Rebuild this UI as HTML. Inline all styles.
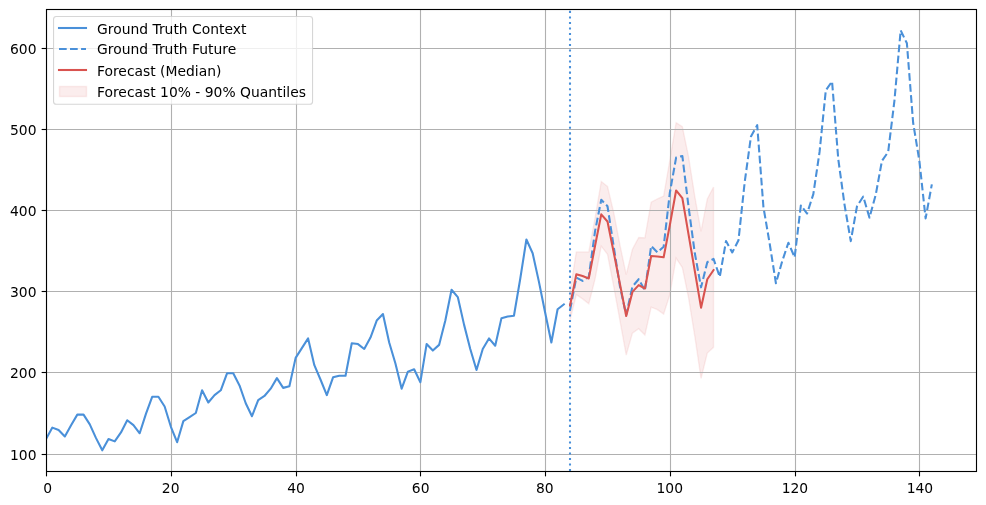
<!DOCTYPE html><html><head><meta charset="utf-8"><title>Forecast</title>
<style>html,body{margin:0;padding:0;background:#fff}body{width:986px;height:505px;overflow:hidden}svg{display:block}text{font-family:"DejaVu Sans","Liberation Sans",sans-serif;font-size:13.89px;fill:#000}</style></head><body>
<svg width="986" height="505" viewBox="0 0 986 505">
<rect width="986" height="505" fill="#fff"/>
<clipPath id="c"><rect x="46.5" y="9.5" width="930.0" height="462.0"/></clipPath>
<g clip-path="url(#c)">
<polygon points="570.07,291.38 576.31,251.89 582.55,251.89 588.79,251.89 595.02,218.41 601.26,181.52 607.50,186.38 613.74,212.73 619.97,245.16 626.21,274.68 632.45,249.22 638.69,237.46 644.92,237.87 651.16,202.19 657.40,198.95 663.64,196.11 669.87,160.03 676.11,122.73 682.35,126.79 688.58,156.79 694.82,196.52 701.06,231.38 707.30,198.95 713.53,186.95 713.53,347.33 707.30,353.00 701.06,378.38 694.82,336.30 688.58,297.87 682.35,267.62 676.11,258.14 669.87,294.62 663.64,314.08 657.40,309.62 651.16,307.19 644.92,335.00 638.69,328.68 632.45,333.06 626.21,355.03 619.97,320.57 613.74,286.52 607.50,254.33 601.26,246.14 595.02,279.22 588.79,303.79 582.55,298.84 576.31,294.71 570.07,319.76" fill="#d9534f" fill-opacity="0.1" stroke="#d9534f" stroke-opacity="0.1" stroke-width="1.39" stroke-linejoin="miter"/>
<g stroke="#b0b0b0" stroke-width="1.11">
<line x1="46.5" y1="9.5" x2="46.5" y2="471.5"/>
<line x1="171.5" y1="9.5" x2="171.5" y2="471.5"/>
<line x1="296.5" y1="9.5" x2="296.5" y2="471.5"/>
<line x1="420.5" y1="9.5" x2="420.5" y2="471.5"/>
<line x1="545.5" y1="9.5" x2="545.5" y2="471.5"/>
<line x1="670.5" y1="9.5" x2="670.5" y2="471.5"/>
<line x1="795.5" y1="9.5" x2="795.5" y2="471.5"/>
<line x1="919.5" y1="9.5" x2="919.5" y2="471.5"/>
<line x1="46.5" y1="454.5" x2="976.5" y2="454.5"/>
<line x1="46.5" y1="372.5" x2="976.5" y2="372.5"/>
<line x1="46.5" y1="291.5" x2="976.5" y2="291.5"/>
<line x1="46.5" y1="210.5" x2="976.5" y2="210.5"/>
<line x1="46.5" y1="129.5" x2="976.5" y2="129.5"/>
<line x1="46.5" y1="48.5" x2="976.5" y2="48.5"/>
</g>
<polyline points="46.13,438.95 52.37,427.60 58.60,430.03 64.84,436.52 71.08,425.16 77.32,414.62 83.55,414.62 89.79,424.35 96.03,438.14 102.27,450.30 108.50,438.95 114.74,441.38 120.98,432.46 127.22,420.30 133.45,425.16 139.69,433.27 145.93,413.81 152.17,396.79 158.40,396.79 164.64,406.52 170.88,426.79 177.12,442.19 183.35,421.11 189.59,417.06 195.83,413.00 202.07,390.30 208.30,402.46 214.54,395.16 220.78,390.30 227.02,373.27 233.25,373.27 239.49,385.44 245.73,403.27 251.97,416.25 258.20,400.03 264.44,395.98 270.68,388.68 276.91,378.14 283.15,387.87 289.39,386.25 295.63,357.87 301.86,348.14 308.10,338.41 314.34,365.16 320.58,379.76 326.81,395.16 333.05,377.33 339.29,375.71 345.53,375.71 351.76,343.27 358.00,344.08 364.24,348.95 370.48,337.60 376.71,320.57 382.95,314.08 389.19,342.46 395.43,363.54 401.66,388.68 407.90,371.65 414.14,369.22 420.38,382.19 426.61,344.08 432.85,350.57 439.09,344.89 445.33,320.57 451.56,289.76 457.80,297.06 464.04,324.62 470.27,348.95 476.51,370.03 482.75,348.95 488.99,338.41 495.22,345.71 501.46,318.14 507.70,316.52 513.94,315.71 520.17,279.22 526.41,239.49 532.65,253.27 538.89,281.65 545.12,312.46 551.36,342.46 557.60,309.22 563.84,304.35" fill="none" stroke="#4a90d9" stroke-width="2.08" stroke-linejoin="round" stroke-linecap="square"/>
<line x1="570" y1="471.1" x2="570" y2="9.5" stroke="#4a90d9" stroke-width="2.08" stroke-dasharray="2.08 3.44"/>
<polyline points="570.07,310.03 576.31,277.60 582.55,280.84 588.79,276.79 595.02,231.38 601.26,199.76 607.50,206.25 613.74,246.79 619.97,286.52 626.21,314.89 632.45,286.52 638.69,279.22 644.92,290.57 651.16,245.98 657.40,252.46 663.64,246.79 669.87,192.46 676.11,157.60 682.35,155.98 688.58,207.06 694.82,253.27 701.06,287.33 707.30,262.19 713.53,258.95 719.77,276.79 726.01,241.11 732.25,252.46 738.48,240.30 744.72,181.92 750.96,136.52 757.20,125.16 763.43,207.06 769.67,243.54 775.91,283.27 782.15,261.38 788.38,242.73 794.62,257.33 800.86,205.44 807.10,213.54 813.33,194.08 819.57,151.92 825.81,90.30 832.05,81.38 838.28,159.22 844.52,204.62 850.76,241.11 857.00,206.25 863.23,196.52 869.47,217.60 875.71,194.89 881.94,160.84 888.18,151.92 894.42,100.84 900.66,30.30 906.89,43.27 913.13,122.73 919.37,160.84 925.61,218.41 931.84,184.35" fill="none" stroke="#4a90d9" stroke-width="2.08" stroke-linejoin="round" stroke-dasharray="7.715 3.336"/>
<polyline points="570.07,305.49 576.31,274.35 582.55,276.06 588.79,278.41 595.02,245.98 601.26,214.35 607.50,221.49 613.74,252.46 619.97,284.08 626.21,315.95 632.45,291.87 638.69,285.14 644.92,288.46 651.16,255.95 657.40,256.44 663.64,257.25 669.87,224.89 676.11,190.44 682.35,198.14 688.58,234.62 694.82,271.11 701.06,307.68 707.30,279.22 713.53,270.14" fill="none" stroke="#d9534f" stroke-width="2.08" stroke-linejoin="round" stroke-linecap="square"/>
</g>
<rect x="46.5" y="9.5" width="930.0" height="462.0" fill="none" stroke="#000" stroke-width="1.11" stroke-linejoin="miter"/>
<g stroke="#000" stroke-width="1.11">
<line x1="46.5" y1="471.5" x2="46.5" y2="476.36"/>
<line x1="171.5" y1="471.5" x2="171.5" y2="476.36"/>
<line x1="296.5" y1="471.5" x2="296.5" y2="476.36"/>
<line x1="420.5" y1="471.5" x2="420.5" y2="476.36"/>
<line x1="545.5" y1="471.5" x2="545.5" y2="476.36"/>
<line x1="670.5" y1="471.5" x2="670.5" y2="476.36"/>
<line x1="795.5" y1="471.5" x2="795.5" y2="476.36"/>
<line x1="919.5" y1="471.5" x2="919.5" y2="476.36"/>
<line x1="41.64" y1="454.5" x2="46.5" y2="454.5"/>
<line x1="41.64" y1="372.5" x2="46.5" y2="372.5"/>
<line x1="41.64" y1="291.5" x2="46.5" y2="291.5"/>
<line x1="41.64" y1="210.5" x2="46.5" y2="210.5"/>
<line x1="41.64" y1="129.5" x2="46.5" y2="129.5"/>
<line x1="41.64" y1="48.5" x2="46.5" y2="48.5"/>
</g>
<text x="47.7" y="493.1" text-anchor="middle">0</text>
<text x="170.7" y="493.1" text-anchor="middle">20</text>
<text x="296.1" y="493.1" text-anchor="middle">40</text>
<text x="420.7" y="493.1" text-anchor="middle">60</text>
<text x="544.8" y="493.1" text-anchor="middle">80</text>
<text x="669.8" y="493.1" text-anchor="middle">100</text>
<text x="794.9" y="493.1" text-anchor="middle">120</text>
<text x="919.9" y="493.1" text-anchor="middle">140</text>
<text x="36.5" y="459.8" text-anchor="end">100</text>
<text x="36.5" y="377.8" text-anchor="end">200</text>
<text x="36.5" y="296.8" text-anchor="end">300</text>
<text x="36.5" y="215.8" text-anchor="end">400</text>
<text x="36.5" y="134.8" text-anchor="end">500</text>
<text x="36.5" y="53.8" text-anchor="end">600</text>
<rect x="53.55" y="16.5" width="259" height="87.7" rx="2.8" ry="2.8" fill="#fff" fill-opacity="0.8" stroke="#ccc" stroke-opacity="0.8" stroke-width="1.1"/>
<line x1="59" y1="28" x2="86" y2="28" stroke="#4a90d9" stroke-width="2.08" stroke-linecap="square"/>
<line x1="59" y1="49" x2="86" y2="49" stroke="#4a90d9" stroke-width="2.08" stroke-dasharray="7.7 3.33"/>
<line x1="59" y1="70" x2="86" y2="70" stroke="#d9534f" stroke-width="2.08" stroke-linecap="square"/>
<rect x="59.5" y="86.5" width="27" height="10" fill="#d9534f" fill-opacity="0.1" stroke="#d9534f" stroke-opacity="0.1" stroke-width="1.39"/>
<text x="97" y="33.5">Ground Truth Context</text>
<text x="97" y="53.6">Ground Truth Future</text>
<text x="97" y="75.8">Forecast (Median)</text>
<text x="97" y="96.9">Forecast 10% - 90% Quantiles</text>
</svg></body></html>
